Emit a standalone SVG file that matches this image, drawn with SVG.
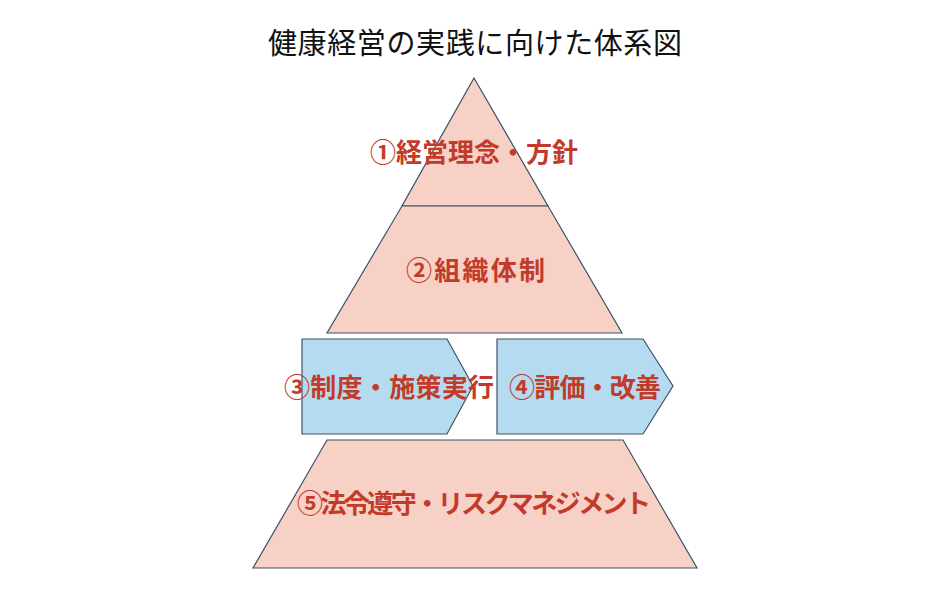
<svg xmlns="http://www.w3.org/2000/svg" width="950" height="600" viewBox="0 0 950 600">
<style>
.pink{fill:#f7d0c6;stroke:#3e5366;stroke-width:1.2}
.blue{fill:#b5dbf1;stroke:#3e5366;stroke-width:1.2}
.lbl{font-family:"Noto Sans CJK JP","Noto Sans",sans-serif;font-weight:bold;font-size:26px;fill:#c23b2a;text-anchor:middle;dominant-baseline:central}
.title{font-family:"Noto Sans CJK JP","Noto Sans",sans-serif;font-size:29px;fill:#111;text-anchor:middle;dominant-baseline:central}
</style>
<rect width="950" height="600" fill="#fff"/>
<text class="title" x="475" y="41" textLength="414">健康経営の実践に向けた体系図</text>
<g id="n1"><polygon class="pink" points="474,78 548,206 402,206"/><text class="lbl" x="474" y="150" textLength="208">①経営理念・方針</text></g>
<g id="n2"><polygon class="pink" points="402,206 548,206 622,333 327,333"/><text class="lbl" x="475.5" y="268" textLength="139">②組織体制</text></g>
<g id="n3"><polygon class="blue" points="302,339 447,339 473,386 447,434 302,434"/><text class="lbl" x="389" y="385" textLength="210">③制度・施策実行</text></g>
<g id="n4"><polygon class="blue" points="497,339 643,339 673,386 643,434 497,434"/><text class="lbl" x="585" y="385" textLength="152">④評価・改善</text></g>
<g id="n5"><polygon class="pink" points="327,440 623,440 697,568 253,568"/><text class="lbl" x="474" y="501" textLength="354">⑤法令遵守・リスクマネジメント</text></g>
<g id="connectors"/>
</svg>
